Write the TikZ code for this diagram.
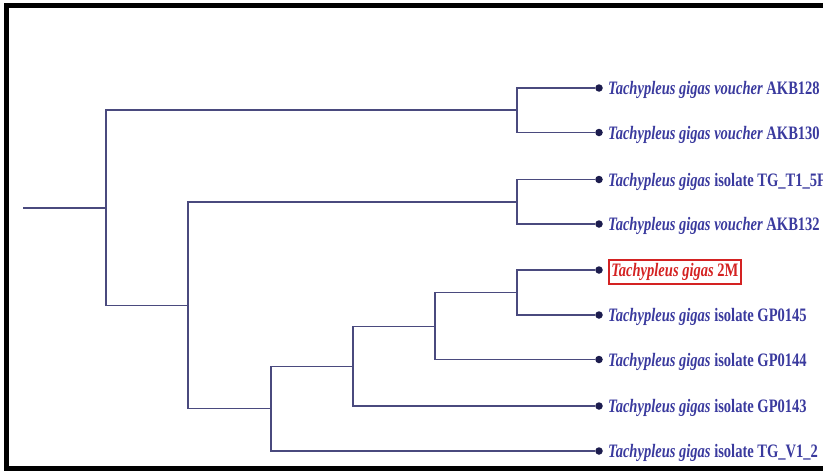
\documentclass[tikz,border=0pt]{standalone}
\usepackage{fontspec}
\setmainfont{Liberation Serif}[FakeStretch=0.765]
\definecolor{branchcol}{HTML}{4A4A7E}
\definecolor{tipcol}{HTML}{1C1C4E}
\definecolor{labelcol}{HTML}{3A3A9E}
\definecolor{highlight}{HTML}{D42222}
\tikzset{
  branch/.style={draw=branchcol, line width=1.9pt},
  tip/.style={circle, fill=tipcol, inner sep=0pt, minimum size=7.5pt},
  taxon/.style={anchor=base west, inner sep=0pt, text=labelcol,
    font=\fontsize{19}{20}\selectfont\bfseries},
  marked/.style={anchor=base west, inner xsep=2.4pt, inner ysep=3.6pt, text=highlight,
    draw=highlight, line width=1.9pt, font=\fontsize{19}{20}\selectfont\bfseries}
}
\begin{document}
\begin{tikzpicture}[x=1pt,y=-1pt]
\useasboundingbox (0,0) rectangle (823,474);
\clip (0,0) rectangle (823,474);
% outer frame, open to the right
\draw[line width=5pt] (840,5) -- (6.5,5) -- (6.5,468) -- (840,468);

% internal nodes
\coordinate (stem) at (23,208);
\coordinate (root) at (106,208);
\coordinate (nA) at (517,110);
\coordinate (nB) at (188,305.5);
\coordinate (nC) at (517,202);
\coordinate (nD) at (271,408.5);
\coordinate (nE) at (353,366.5);
\coordinate (nF) at (435,326.5);
\coordinate (nG) at (517,292.5);

% tips
\node[tip] (t1) at (599,88) {};
\node[tip] (t2) at (599,132.5) {};
\node[tip] (t3) at (599,179.5) {};
\node[tip] (t4) at (599,224) {};
\node[tip] (t5) at (599,270) {};
\node[tip] (t6) at (599,315) {};
\node[tip] (t7) at (599,359.5) {};
\node[tip] (t8) at (599,406) {};
\node[tip] (t9) at (599,451) {};

% branches
\draw[branch] (stem) -- (root);
\draw[branch] (root) |- (nA);
\draw[branch] (root) |- (nB);
\draw[branch] (nA) |- (t1);
\draw[branch] (nA) |- (t2);
\draw[branch] (nB) |- (nC);
\draw[branch] (nB) |- (nD);
\draw[branch] (nC) |- (t3);
\draw[branch] (nC) |- (t4);
\draw[branch] (nD) |- (nE);
\draw[branch] (nD) |- (t9);
\draw[branch] (nE) |- (nF);
\draw[branch] (nE) |- (t8);
\draw[branch] (nF) |- (nG);
\draw[branch] (nF) |- (t7);
\draw[branch] (nG) |- (t5);
\draw[branch] (nG) |- (t6);

% labels
\node[taxon] (l1) at (608,94.5) {\textit{Tachypleus gigas voucher} AKB128};
\node[taxon] (l2) at (608,139) {\textit{Tachypleus gigas voucher} AKB130};
\node[taxon] (l3) at (608,186) {\textit{Tachypleus gigas} isolate TG\_T1\_5F};
\node[taxon] (l4) at (608,230.5) {\textit{Tachypleus gigas voucher} AKB132};
\node[marked] (l5) at (608,276.5) {\textit{Tachypleus gigas} 2M};
\node[taxon] (l6) at (608,321.5) {\textit{Tachypleus gigas} isolate GP0145};
\node[taxon] (l7) at (608,366) {\textit{Tachypleus gigas} isolate GP0144};
\node[taxon] (l8) at (608,412.5) {\textit{Tachypleus gigas} isolate GP0143};
\node[taxon] (l9) at (608,457.5) {\textit{Tachypleus gigas} isolate TG\_V1\_2};
\end{tikzpicture}
\end{document}
